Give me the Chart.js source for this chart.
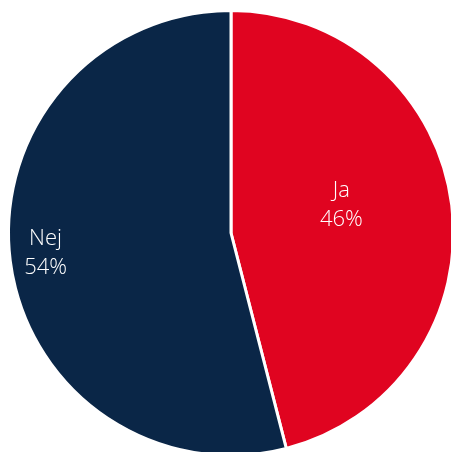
<!DOCTYPE html>
<html>
<head>
<meta charset="utf-8">
<script src="https://cdn.jsdelivr.net/npm/chart.js@4/dist/chart.umd.min.js"></script>
<style>
    html, body {
        margin: 0;
        padding: 0;
        width: 451px;
        height: 452px;
        overflow: hidden;
        background: #ffffff;
    }
    .chart-box {
        position: absolute;
        left: 0;
        top: 0;
        width: 462px;
        height: 466px;
    }
</style>
</head>
<body>
<div class="chart-box"><canvas id="pieChart"></canvas></div>
<script>
const categories = ["Ja", "Nej"];
const shares = [46, 54];
const sliceColors = ["#e00420", "#0a2647"];

// Labels sit at different spots inside each slice in the original
const labelRadius = [0.5, 0.84];
const labelLift = [14, 4];

const sliceLabels = {
    id: "sliceLabels",
    afterDatasetsDraw(chart) {
        const { ctx } = chart;
        const meta = chart.getDatasetMeta(0);
        ctx.save();
        ctx.fillStyle = "#ffffff";
        ctx.font = "300 22px 'Open Sans', sans-serif";
        ctx.textAlign = "center";
        ctx.textBaseline = "middle";
        meta.data.forEach((arc, index) => {
            const props = arc.getProps(["x", "y", "startAngle", "endAngle", "outerRadius"], true);
            const mid = (props.startAngle + props.endAngle) / 2;
            const r = props.outerRadius * labelRadius[index];
            const x = props.x + Math.cos(mid) * r;
            const y = props.y + Math.sin(mid) * r - labelLift[index];
            ctx.fillText(categories[index], x, y - 14);
            ctx.fillText(`${shares[index]}%`, x, y + 15);
        });
        ctx.restore();
    },
};

document.addEventListener("DOMContentLoaded", () => {
    new Chart(document.getElementById("pieChart"), {
        type: "pie",
        data: {
            labels: categories,
            datasets: [
                {
                    data: shares,
                    backgroundColor: sliceColors,
                    borderColor: "#ffffff",
                    borderWidth: 3,
                },
            ],
        },
        options: {
            responsive: true,
            maintainAspectRatio: false,
            animation: false,
            layout: {
                padding: { top: 9, left: 7, right: 7, bottom: 9 },
            },
            plugins: {
                legend: { display: false },
                tooltip: { enabled: false },
            },
        },
        plugins: [sliceLabels],
    });
});
</script>
</body>
</html>
